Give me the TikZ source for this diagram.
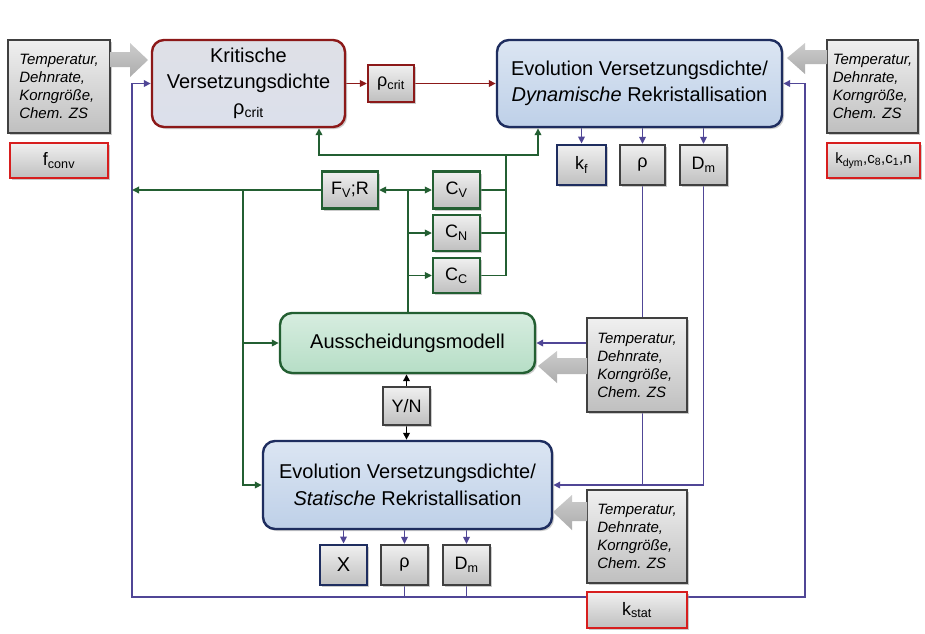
\documentclass[tikz,border=0pt]{standalone}
\usepackage{fontspec}
\setmainfont{Liberation Sans}
\usetikzlibrary{arrows.meta,shadows}
\definecolor{redc}{RGB}{140,25,25}
\definecolor{brightred}{RGB}{215,30,30}
\definecolor{navy}{RGB}{30,45,95}
\definecolor{loopc}{RGB}{80,70,150}
\definecolor{greenc}{RGB}{35,95,50}
\definecolor{boxblue}{RGB}{190,208,232}
\definecolor{boxgreen}{RGB}{182,222,198}
\definecolor{boxgray}{RGB}{200,204,214}
\pgfdeclarelayer{bg}
\pgfsetlayers{bg,main}
\begin{document}
\begin{tikzpicture}[x=1pt,y=-1pt,
  >={Triangle[length=7pt,width=6.5pt]},
  shad/.style={drop shadow={shadow xshift=2pt,shadow yshift=-2pt,fill=black!40}},
  big/.style={shad,rounded corners=12pt,line width=2.4pt,align=center,
    font=\fontsize{20}{26}\selectfont,inner sep=2pt},
  btn/.style={shad,draw=black!75,line width=2.2pt,top color=gray!12,bottom color=gray!50,
    align=center,inner sep=1pt,font=\fontsize{18}{20}\selectfont},
  inbox/.style={btn,font=\fontsize{15}{18}\selectfont\itshape,align=left,inner sep=0pt},
  redbtn/.style={btn,draw=brightred},
  navybtn/.style={btn,draw=navy,line width=2.8pt},
  greenbtn/.style={btn,draw=greenc},
  conn/.style={line width=1.7pt},
  bigarrow/.style={top color=gray!40,bottom color=gray!65,draw=none}
]
\useasboundingbox (0,0) rectangle (925,633);
\begin{pgfonlayer}{bg}
\fill[white] (0,0) rectangle (925,633);
\end{pgfonlayer}

% ---- nodes ----
\node[inbox,minimum width=102pt,minimum height=93pt] (inL) at (59,86.5)
  {Temperatur,\\Dehnrate,\\Korngröße,\\Chem. ZS};
\node[redbtn,minimum width=98pt,minimum height=35pt] (fconv) at (59,160.5) {f\textsubscript{conv}};
\node[big,draw=redc,top color=boxgray!60,bottom color=boxgray!110!black,minimum width=193pt,minimum height=87pt] (krit) at (248.5,83.5)
  {Kritische\\Versetzungsdichte\\ρ\textsubscript{crit}};
\node[btn,draw=redc,minimum width=46pt,minimum height=37pt] (rhocrit) at (391,83.5) {ρ\textsubscript{crit}};
\node[big,draw=navy,top color=boxblue!55,bottom color=boxblue,minimum width=285pt,minimum height=87pt] (dyn) at (639.5,83.5)
  {Evolution Versetzungsdichte/\\\textit{Dynamische} Rekristallisation};
\node[inbox,minimum width=91pt,minimum height=93pt] (inR) at (872.5,86.5)
  {Temperatur,\\Dehnrate,\\Korngröße,\\Chem. ZS};
\node[redbtn,minimum width=93pt,minimum height=35pt,font=\fontsize{15}{18}\selectfont] (kdym) at (873.5,160.5)
  {k\textsubscript{dym},c\textsubscript{8},c\textsubscript{1},n};
\node[navybtn,minimum width=49pt,minimum height=40pt] (kf) at (581.5,165) {k\textsubscript{f}};
\node[btn,minimum width=45pt,minimum height=40pt] (rhoD) at (642.5,165) {ρ};
\node[btn,minimum width=47pt,minimum height=40pt] (DmD) at (703.5,165) {D\textsubscript{m}};
\node[greenbtn,minimum width=56pt,minimum height=37pt] (FVR) at (350,190) {F\textsubscript{V};R};
\node[greenbtn,minimum width=47pt,minimum height=37pt] (CV) at (456.5,190) {C\textsubscript{V}};
\node[greenbtn,minimum width=47pt,minimum height=36pt] (CN) at (456.5,233) {C\textsubscript{N}};
\node[greenbtn,minimum width=47pt,minimum height=35pt] (CC) at (456.5,275.5) {C\textsubscript{C}};
\node[big,draw=greenc,top color=boxgreen!55,bottom color=boxgreen,minimum width=255pt,minimum height=60pt] (aus) at (407.5,343)
  {Ausscheidungsmodell};
\node[inbox,minimum width=100pt,minimum height=94pt] (inM) at (637,365)
  {Temperatur,\\Dehnrate,\\Korngröße,\\Chem. ZS};
\node[btn,minimum width=47pt,minimum height=38pt] (YN) at (406.5,406) {Y/N};
\node[big,draw=navy,top color=boxblue!55,bottom color=boxblue,minimum width=289pt,minimum height=88pt,
  font=\fontsize{20}{27}\selectfont] (stat) at (407.5,485)
  {Evolution Versetzungsdichte/\\\textit{Statische} Rekristallisation};
\node[inbox,minimum width=100pt,minimum height=93pt] (inB) at (637,536.5)
  {Temperatur,\\Dehnrate,\\Korngröße,\\Chem. ZS};
\node[navybtn,minimum width=47pt,minimum height=40pt,font=\fontsize{20}{24}\selectfont] (X) at (343.5,565) {X};
\node[btn,minimum width=47pt,minimum height=40pt] (rhoS) at (404.5,565) {ρ};
\node[btn,minimum width=47pt,minimum height=40pt] (DmS) at (466.5,565) {D\textsubscript{m}};
\node[redbtn,minimum width=100pt,minimum height=36pt] (kstat) at (637,610) {k\textsubscript{stat}};

% ---- big gray arrows ----
\path[bigarrow] (110,52) -- (130,52) -- (130,43) -- (148,60) -- (130,77) -- (130,67) -- (110,67) -- cycle;
\path[bigarrow] (827,50) -- (805,50) -- (805,43) -- (787,58) -- (805,74) -- (805,64) -- (827,64) -- cycle;
\path[bigarrow] (587,358) -- (557,358) -- (557,351) -- (538,366) -- (557,383) -- (557,374) -- (587,374) -- cycle;
\path[bigarrow] (587,502) -- (572,502) -- (572,495) -- (553,512) -- (572,530) -- (572,521) -- (587,521) -- cycle;

% ---- connectors ----
\begin{pgfonlayer}{bg}
% red
\draw[conn,redc,->] (krit.east) -- (rhocrit.west);
\draw[conn,redc,->] (rhocrit.east) -- (dyn.west);
% blue / purple
\coordinate (bl) at (132,597);
\coordinate (br) at (805,597);
\coordinate (rs) at (642.5,485);
\foreach \n in {kf,rhoD,DmD} \draw[conn,loopc,->] (dyn.south -| \n.north) -- (\n.north);
\foreach \n in {X,rhoS,DmS} \draw[conn,loopc,->] (stat.south -| \n.north) -- (\n.north);
\draw[conn,loopc,->] (rhoD.south) -- (rs) -- (stat.east);
\draw[conn,loopc] (DmD.south) -- (DmD.south |- rs) -- (rs);
\draw[conn,loopc,->] (rhoD.south |- aus.east) -- (aus.east);
\draw[conn,loopc,->] (kstat.west |- bl) -- (bl) -- (bl |- krit.west) -- (krit.west);
\draw[conn,loopc,->] (kstat.east |- br) -- (br) -- (br |- dyn.east) -- (dyn.east);
\draw[conn,loopc] (rhoS.south) -- (rhoS.south |- bl);
\draw[conn,loopc] (DmS.south) -- (DmS.south |- bl);
% black Y/N
\draw[conn,black,->] (YN.north) -- (YN.north |- aus.south);
\draw[conn,black,->] (YN.south) -- (YN.south |- stat.north);
% green
\coordinate (j1) at (408,190);
\coordinate (j2) at (243,190);
\coordinate (gr) at (506,190);
\coordinate (gt) at (506,155);
\draw[conn,greenc,->] (j1) -- (FVR.east);
\draw[conn,greenc,->] (j1) -- (CV.west);
\draw[conn,greenc] (j1) -- (j1 |- aus.north);
\draw[conn,greenc,->] (j1 |- CN.west) -- (CN.west);
\draw[conn,greenc,->] (j1 |- CC.west) -- (CC.west);
\draw[conn,greenc] (CV.east) -- (gr);
\draw[conn,greenc] (CN.east) -- (gr |- CN.east);
\draw[conn,greenc] (CC.east) -- (gr |- CC.east) -- (gt);
\draw[conn,greenc,->] (gt) -- (319,155) -- (319,155 |- krit.south);
\draw[conn,greenc,->] (gt) -- (538,155) -- (538,155 |- dyn.south);
\draw[conn,greenc,->] (FVR.west) -- (bl |- FVR.west);
\draw[conn,greenc,->] (j2) -- (j2 |- stat.west) -- (stat.west);
\draw[conn,greenc,->] (j2 |- aus.west) -- (aus.west);
\end{pgfonlayer}
\end{tikzpicture}
\end{document}
